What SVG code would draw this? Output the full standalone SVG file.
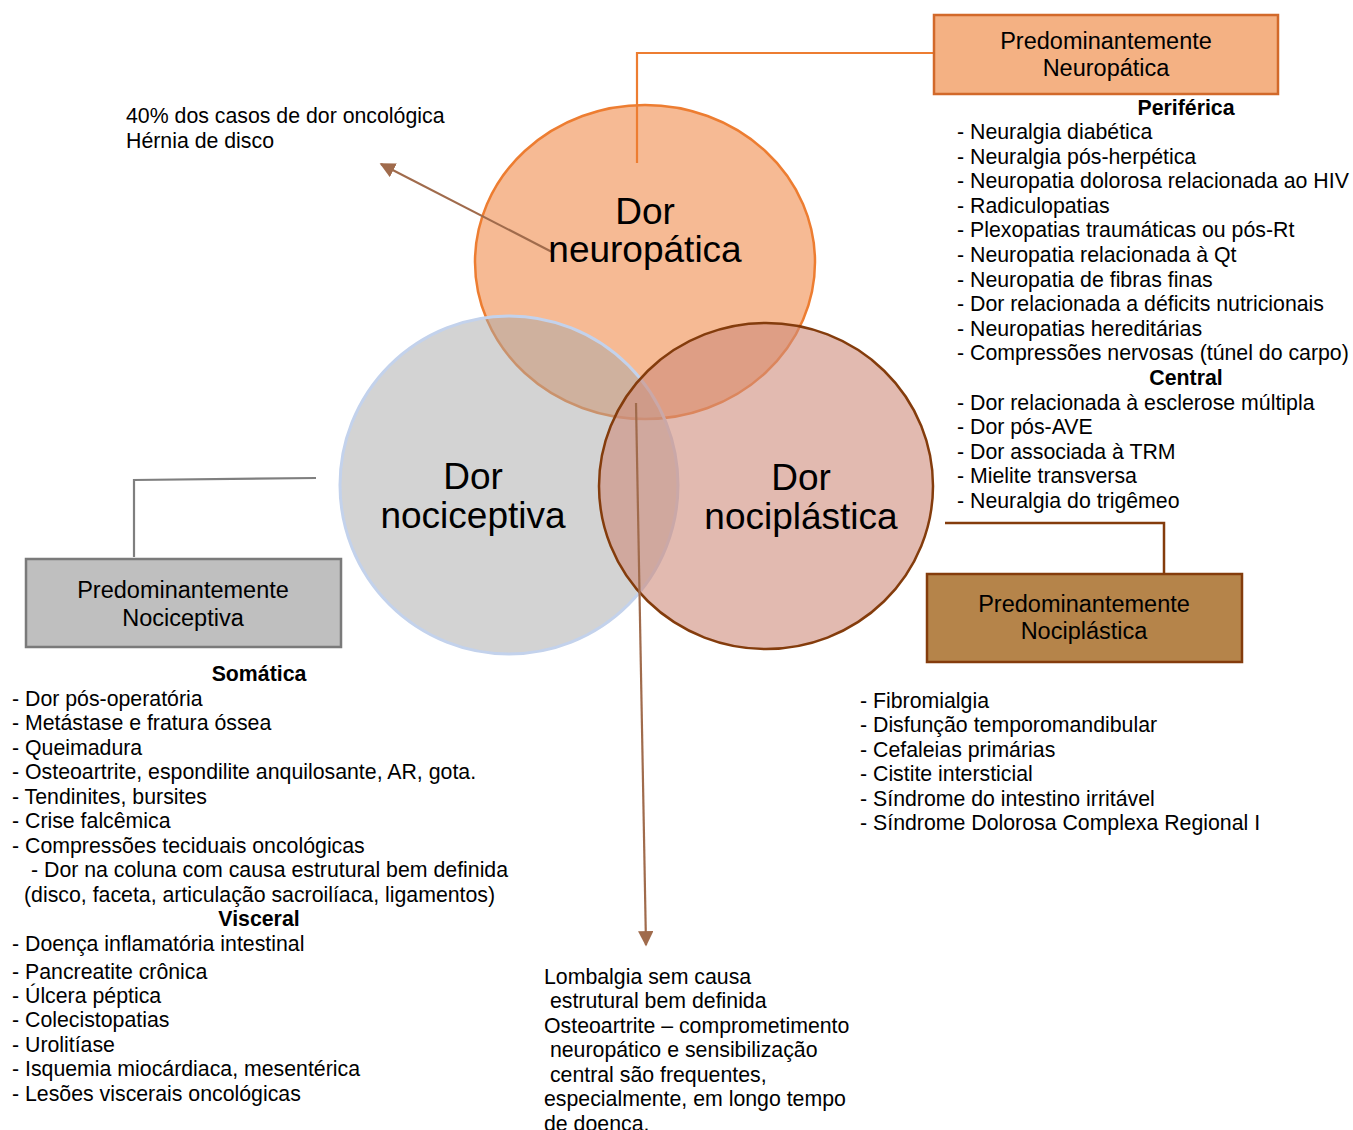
<svg xmlns="http://www.w3.org/2000/svg" width="1353" height="1130" viewBox="0 0 1353 1130">
  <defs>
    <style>
      text { font-family: "Liberation Sans", Arial, sans-serif; fill: #000; }
      .big { font-size: 37px; text-anchor: middle; }
      .box { font-size: 23.5px; text-anchor: middle; }
      .lst { font-size: 21.3px; }
      .hd { font-size: 21.3px; font-weight: bold; text-anchor: middle; }
      .arrow { stroke: #a06b4c; stroke-width: 2.2; fill: none; }
    </style>
    <marker id="head" viewBox="0 0 10 10" refX="9" refY="5" markerWidth="7" markerHeight="7" markerUnits="strokeWidth" orient="auto">
      <path d="M0,0 L10,5 L0,10 Z" fill="#a06b4c"/>
    </marker>
  </defs>

  <rect width="1353" height="1130" fill="#ffffff"/>

  <!-- Venn circles -->
  <g id="circle-neuropatica">
    <ellipse cx="645" cy="262" rx="170" ry="157" fill="#f6ba94" stroke="#ed7d31" stroke-width="2.5"/>
  </g>
  <g id="circle-nociceptiva">
    <ellipse cx="509" cy="485" rx="169" ry="169" fill="#a7a7a7" fill-opacity="0.5" stroke="#c3d2ec" stroke-width="3"/>
  </g>
  <g id="circle-nociplastica">
    <ellipse cx="766" cy="486" rx="167" ry="163" fill="#cf8c7b" fill-opacity="0.6" stroke="#843c0c" stroke-width="2.5"/>
  </g>

  <!-- Connectors -->
  <g id="connectors">
    <polyline points="637,163 637,53 934,53" fill="none" stroke="#ed7d31" stroke-width="2.2"/>
    <polyline points="134,557 134,480 316,478" fill="none" stroke="#7f7f7f" stroke-width="2.2"/>
    <polyline points="945,523 1164,523 1164,574" fill="none" stroke="#843c0c" stroke-width="2.5"/>
    <line class="arrow" x1="552" y1="252" x2="381" y2="164" marker-end="url(#head)"/>
    <line class="arrow" x1="636" y1="403" x2="646" y2="945" marker-end="url(#head)"/>
  </g>

  <!-- Circle labels -->
  <g id="label-neuropatica">
    <text class="big" x="645" y="224">Dor</text>
    <text class="big" x="645" y="262">neuropática</text>
  </g>
  <g id="label-nociceptiva">
    <text class="big" x="473" y="489">Dor</text>
    <text class="big" x="473" y="528">nociceptiva</text>
  </g>
  <g id="label-nociplastica">
    <text class="big" x="801" y="490">Dor</text>
    <text class="big" x="801" y="529">nociplástica</text>
  </g>

  <!-- Category boxes -->
  <g id="box-neuropatica">
    <rect x="934" y="15" width="344" height="79" fill="#f4b183" stroke="#d2692a" stroke-width="2.5"/>
    <text class="box" x="1106" y="49">Predominantemente</text>
    <text class="box" x="1106" y="76">Neuropática</text>
  </g>
  <g id="box-nociceptiva">
    <rect x="26" y="559" width="315" height="88" fill="#bfbfbf" stroke="#7a7a7a" stroke-width="2.5"/>
    <text class="box" x="183" y="598">Predominantemente</text>
    <text class="box" x="183" y="626">Nociceptiva</text>
  </g>
  <g id="box-nociplastica">
    <rect x="927" y="574" width="315" height="88" fill="#b5844a" stroke="#843c0c" stroke-width="2.5"/>
    <text class="box" x="1084" y="612">Predominantemente</text>
    <text class="box" x="1084" y="639">Nociplástica</text>
  </g>

  <!-- Note for neuropathic arrow -->
  <g id="note-neuropatica" class="lst">
    <text x="126" y="123">40% dos casos de dor oncológica</text>
    <text x="126" y="147.5">Hérnia de disco</text>
  </g>

  <!-- Neuropathic list -->
  <g id="list-neuropatica" class="lst">
    <text class="hd" x="1186" y="114.5">Periférica</text>
    <text x="957" y="139">- Neuralgia diabética</text>
    <text x="957" y="163.6">- Neuralgia pós-herpética</text>
    <text x="957" y="188.2">- Neuropatia dolorosa relacionada ao HIV</text>
    <text x="957" y="212.8">- Radiculopatias</text>
    <text x="957" y="237.4">- Plexopatias traumáticas ou pós-Rt</text>
    <text x="957" y="262">- Neuropatia relacionada à Qt</text>
    <text x="957" y="286.6">- Neuropatia de fibras finas</text>
    <text x="957" y="311.2">- Dor relacionada a déficits nutricionais</text>
    <text x="957" y="335.8">- Neuropatias hereditárias</text>
    <text x="957" y="360.4">- Compressões nervosas (túnel do carpo)</text>
    <text class="hd" x="1186" y="385">Central</text>
    <text x="957" y="409.6">- Dor relacionada à esclerose múltipla</text>
    <text x="957" y="434.2">- Dor pós-AVE</text>
    <text x="957" y="458.8">- Dor associada à TRM</text>
    <text x="957" y="483.4">- Mielite transversa</text>
    <text x="957" y="508">- Neuralgia do trigêmeo</text>
  </g>

  <!-- Nociceptive list -->
  <g id="list-nociceptiva" class="lst">
    <text class="hd" x="259" y="680.5">Somática</text>
    <text x="12" y="705.5">- Dor pós-operatória</text>
    <text x="12" y="730">- Metástase e fratura óssea</text>
    <text x="12" y="754.5">- Queimadura</text>
    <text x="12" y="779">- Osteoartrite, espondilite anquilosante, AR, gota.</text>
    <text x="12" y="803.5">- Tendinites, bursites</text>
    <text x="12" y="828">- Crise falcêmica</text>
    <text x="12" y="852.5">- Compressões teciduais oncológicas</text>
    <text x="31" y="877">- Dor na coluna com causa estrutural bem definida</text>
    <text x="24" y="901.5">(disco, faceta, articulação sacroilíaca, ligamentos)</text>
    <text class="hd" x="259" y="925.5">Visceral</text>
    <text x="12" y="950.5">- Doença inflamatória intestinal</text>
    <text x="12" y="978.5">- Pancreatite crônica</text>
    <text x="12" y="1002.5">- Úlcera péptica</text>
    <text x="12" y="1027">- Colecistopatias</text>
    <text x="12" y="1051.5">- Urolitíase</text>
    <text x="12" y="1076">- Isquemia miocárdiaca, mesentérica</text>
    <text x="12" y="1101">- Lesões viscerais oncológicas</text>
  </g>

  <!-- Nociplastic list -->
  <g id="list-nociplastica" class="lst">
    <text x="860" y="707.5">- Fibromialgia</text>
    <text x="860" y="732">- Disfunção temporomandibular</text>
    <text x="860" y="756.5">- Cefaleias primárias</text>
    <text x="860" y="781">- Cistite intersticial</text>
    <text x="860" y="805.5">- Síndrome do intestino irritável</text>
    <text x="860" y="830">- Síndrome Dolorosa Complexa Regional I</text>
  </g>

  <!-- Note for mixed arrow -->
  <g id="note-mista" class="lst">
    <text x="544" y="983.5">Lombalgia sem causa</text>
    <text x="544" y="1008" xml:space="preserve"> estrutural bem definida</text>
    <text x="544" y="1032.5">Osteoartrite – comprometimento</text>
    <text x="544" y="1057" xml:space="preserve"> neuropático e sensibilização</text>
    <text x="544" y="1081.5" xml:space="preserve"> central são frequentes,</text>
    <text x="544" y="1106">especialmente, em longo tempo</text>
    <text x="544" y="1130.5">de doença.</text>
  </g>
</svg>
